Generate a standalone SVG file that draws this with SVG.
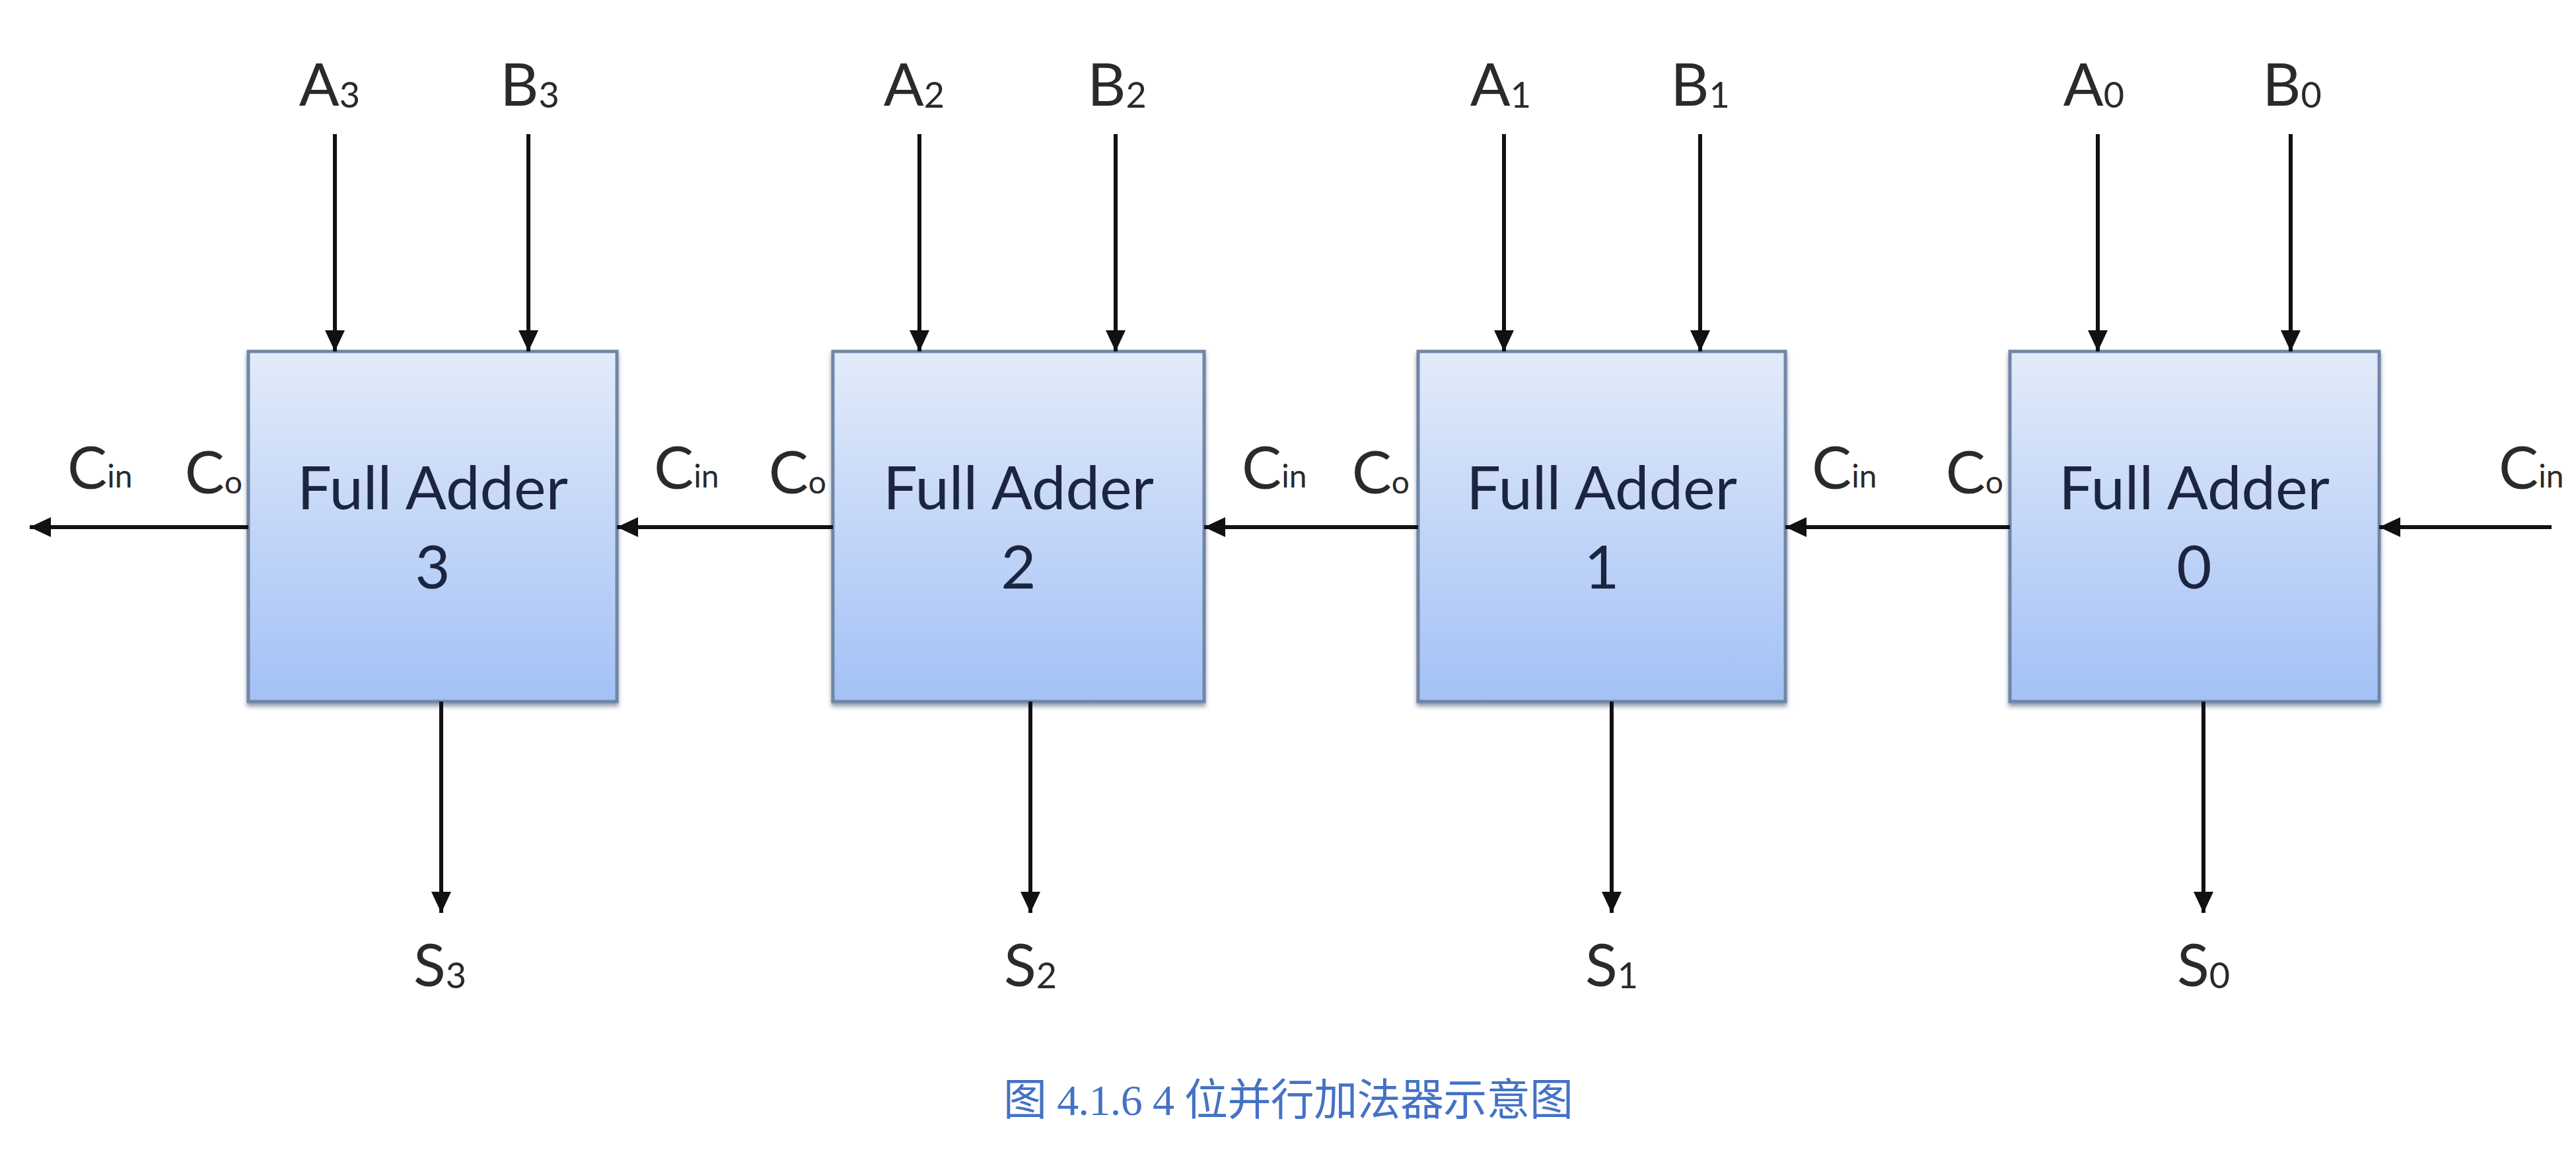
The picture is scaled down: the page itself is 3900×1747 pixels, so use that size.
<svg xmlns="http://www.w3.org/2000/svg" width="3900" height="1747" viewBox="0 0 3900 1747">
<style>
.lbl{font-family:Lato,"Open Sans","Liberation Sans",sans-serif;font-size:90px;fill:#2a2a2a}
.sub{font-size:54px}
.subc{font-size:48px}
.fa{font-family:Lato,"Open Sans","Liberation Sans",sans-serif;font-size:92px;fill:#1c2540;text-anchor:middle}
.box{fill:url(#g);stroke:#6f86a6;stroke-width:5;filter:url(#sh)}
.wire{stroke:#111;stroke-width:6;fill:none;marker-end:url(#ah)}
.cap{font-family:"Liberation Serif","Noto Sans CJK SC",serif;font-size:66px;fill:#4472c4}
</style>
<defs>
<linearGradient id="g" x1="0" y1="0" x2="0" y2="1">
<stop offset="0" stop-color="#e2ebfa"/>
<stop offset="0.5" stop-color="#c3d6f8"/>
<stop offset="1" stop-color="#a3c1f5"/>
</linearGradient>
<filter id="sh" x="-5%" y="-5%" width="110%" height="115%">
<feDropShadow dx="0" dy="5" stdDeviation="3" flood-color="#4a5a78" flood-opacity="0.6"/>
</filter>
<marker id="ah" markerUnits="userSpaceOnUse" markerWidth="34" markerHeight="30" refX="32" refY="15" orient="auto">
<path d="M0,0 L32,15 L0,30 Z" fill="#111"/>
</marker>
</defs>
<rect width="3900" height="1747" fill="#ffffff"/>

<g id="fa3">
<rect class="box" x="376" y="532" width="558" height="530"/>
<text class="fa" x="655" y="771">Full Adder</text>
<text class="fa" x="655" y="891">3</text>
</g>
<g id="fa2">
<rect class="box" x="1261" y="532" width="562" height="530"/>
<text class="fa" x="1542" y="771">Full Adder</text>
<text class="fa" x="1542" y="891">2</text>
</g>
<g id="fa1">
<rect class="box" x="2147" y="532" width="556" height="530"/>
<text class="fa" x="2425" y="771">Full Adder</text>
<text class="fa" x="2425" y="891">1</text>
</g>
<g id="fa0">
<rect class="box" x="3043" y="532" width="559" height="530"/>
<text class="fa" x="3322" y="771">Full Adder</text>
<text class="fa" x="3322" y="891">0</text>
</g>

<g id="connectors">
<line class="wire" x1="507" y1="203" x2="507" y2="532"/>
<line class="wire" x1="800" y1="203" x2="800" y2="532"/>
<line class="wire" x1="1392" y1="203" x2="1392" y2="532"/>
<line class="wire" x1="1689" y1="203" x2="1689" y2="532"/>
<line class="wire" x1="2277" y1="203" x2="2277" y2="532"/>
<line class="wire" x1="2574" y1="203" x2="2574" y2="532"/>
<line class="wire" x1="3176" y1="203" x2="3176" y2="532"/>
<line class="wire" x1="3468" y1="203" x2="3468" y2="532"/>
<line class="wire" x1="668" y1="1062" x2="668" y2="1382"/>
<line class="wire" x1="1560" y1="1062" x2="1560" y2="1382"/>
<line class="wire" x1="2440" y1="1062" x2="2440" y2="1382"/>
<line class="wire" x1="3336" y1="1062" x2="3336" y2="1382"/>
<line class="wire" x1="376" y1="798" x2="45" y2="798"/>
<line class="wire" x1="1261" y1="798" x2="934" y2="798"/>
<line class="wire" x1="2147" y1="798" x2="1823" y2="798"/>
<line class="wire" x1="3043" y1="798" x2="2703" y2="798"/>
<line class="wire" x1="3863" y1="798" x2="3602" y2="798"/>
</g>

<g id="labels">
<text class="lbl" x="499" y="160" text-anchor="middle">A<tspan class="sub" dy="3">3</tspan></text>
<text class="lbl" x="802" y="160" text-anchor="middle">B<tspan class="sub" dy="3">3</tspan></text>
<text class="lbl" x="1384" y="160" text-anchor="middle">A<tspan class="sub" dy="3">2</tspan></text>
<text class="lbl" x="1691" y="160" text-anchor="middle">B<tspan class="sub" dy="3">2</tspan></text>
<text class="lbl" x="2272" y="160" text-anchor="middle">A<tspan class="sub" dy="3">1</tspan></text>
<text class="lbl" x="2574" y="160" text-anchor="middle">B<tspan class="sub" dy="3">1</tspan></text>
<text class="lbl" x="3170" y="160" text-anchor="middle">A<tspan class="sub" dy="3">0</tspan></text>
<text class="lbl" x="3470" y="160" text-anchor="middle">B<tspan class="sub" dy="3">0</tspan></text>
<text class="lbl" x="666" y="1493" text-anchor="middle">S<tspan class="sub" dy="3">3</tspan></text>
<text class="lbl" x="1560" y="1493" text-anchor="middle">S<tspan class="sub" dy="3">2</tspan></text>
<text class="lbl" x="2440" y="1493" text-anchor="middle">S<tspan class="sub" dy="3">1</tspan></text>
<text class="lbl" x="3336" y="1493" text-anchor="middle">S<tspan class="sub" dy="3">0</tspan></text>
<text class="lbl" x="102" y="740">C<tspan class="subc" dy="-2">in</tspan></text>
<text class="lbl" x="367" y="747" text-anchor="end">C<tspan class="subc">o</tspan></text>
<text class="lbl" x="990" y="740">C<tspan class="subc" dy="-2">in</tspan></text>
<text class="lbl" x="1251" y="747" text-anchor="end">C<tspan class="subc">o</tspan></text>
<text class="lbl" x="1880" y="740">C<tspan class="subc" dy="-2">in</tspan></text>
<text class="lbl" x="2134" y="747" text-anchor="end">C<tspan class="subc">o</tspan></text>
<text class="lbl" x="2743" y="740">C<tspan class="subc" dy="-2">in</tspan></text>
<text class="lbl" x="3033" y="747" text-anchor="end">C<tspan class="subc">o</tspan></text>
<text class="lbl" x="3783" y="740">C<tspan class="subc" dy="-2">in</tspan></text>
</g>

<text class="cap" x="1519" y="1688" textLength="863" lengthAdjust="spacing">图 4.1.6 4 位并行加法器示意图</text>
</svg>
